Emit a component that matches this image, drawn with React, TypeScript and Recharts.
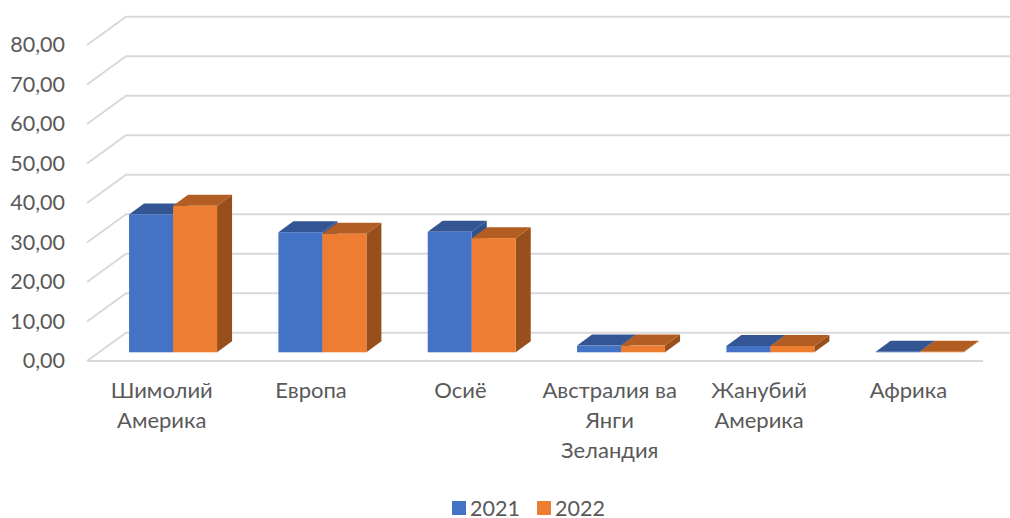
import React from "react";
import { Bar, BarChart, CartesianGrid, Legend, XAxis, YAxis } from "recharts";

const categories = [
  ["Шимолий", "Америка"],
  ["Европа"],
  ["Осиё"],
  ["Австралия ва", "Янги", "Зеландия"],
  ["Жанубий", "Америка"],
  ["Африка"],
];
const values2021 = [34.9, 30.4, 30.5, 1.7, 1.6, 0.15];
const values2022 = [37.1, 30.0, 28.9, 1.7, 1.6, 0.15];
const yTicks = [0, 10, 20, 30, 40, 50, 60, 70, 80];

const data = categories.map((lines, i) => ({
  name: lines.join(" "),
  y2021: values2021[i],
  y2022: values2022[i],
}));

const FONT = "Lato, 'Open Sans', sans-serif";
const TEXT = "#595959";
const GRID = "#d9d9d9";

// bar depth in px, floor shift from the bar plane to the front of the floor
const DX = 15;
const DY = 11;

function bar3d(top: string, side: string) {
  return (p: any) => {
    const { x, y, width, height, fill } = p;
    const r = x + width;
    const b = y + height;
    return (
      <g>
        <polygon points={`${r},${y} ${r + DX},${y - DY} ${r + DX},${b - DY} ${r},${b}`} fill={side} />
        <polygon points={`${x},${y} ${x + DX},${y - DY} ${r + DX},${y - DY} ${r},${y}`} fill={top} />
        <rect x={x} y={y} width={width} height={height} fill={fill} />
      </g>
    );
  };
}

// each grid line is a diagonal on the side wall and a long line on the back wall
function gridLine(p: any) {
  const { y1, index } = p;
  const front = y1 + 8.7;
  const back = y1 - 19.5;
  return (
    <g key={index} fill="none" stroke={GRID} strokeWidth={2}>
      <polyline points={`87,${front} 126,${back} 1010,${back}`} />
      {y1 > 350 && <line x1={87} y1={front} x2={983} y2={front} />}
    </g>
  );
}

function YTick({ y, payload }: any) {
  return (
    <text x={65} y={y + 16} textAnchor="end" fontSize={21.5} fill={TEXT} fontFamily={FONT}>
      {payload.value.toFixed(2).replace(".", ",")}
    </text>
  );
}

function XTick({ x, y, payload }: any) {
  const lines = categories.find((c) => c.join(" ") === payload.value) || [];
  return (
    <text textAnchor="middle" fontSize={22} fill={TEXT} fontFamily={FONT}>
      {lines.map((l, i) => (
        <tspan key={i} x={x - 11.7} y={y + 38 + i * 30}>
          {l}
        </tspan>
      ))}
    </text>
  );
}

function LegendBox({ payload }: any) {
  return (
    <div style={{ position: "relative", height: 20, fontFamily: FONT, fontSize: 21.5, color: TEXT }}>
      {(payload || []).map((e: any, i: number) => (
        <div key={e.value} style={{ position: "absolute", left: 452 + i * 85, top: 0, display: "flex", alignItems: "center" }}>
          <span style={{ width: 14, height: 14, background: e.color, marginRight: 4 }} />
          <span style={{ lineHeight: "20px" }}>{e.value}</span>
        </div>
      ))}
    </div>
  );
}

export default function App() {
  return (
    <div style={{ position: "absolute", left: 0, top: 0, width: 1010, height: 518, background: "#fff" }}>
      <BarChart
        width={1010}
        height={518}
        data={data}
        barGap={0}
        barCategoryGap="20.3%"
        margin={{ top: 36.3, right: 15.25, bottom: 65.7, left: 0 }}
      >
        <CartesianGrid vertical={false} horizontal={gridLine} />
        <XAxis dataKey="name" height={100} interval={0} axisLine={false} tickLine={false} tick={<XTick />} />
        <YAxis width={98.75} domain={[0, 80]} ticks={yTicks} axisLine={false} tickLine={false} tick={<YTick />} />
        <Legend
          layout="horizontal"
          verticalAlign="middle"
          wrapperStyle={{ left: 0, top: 498, width: 1010 }}
          content={<LegendBox />}
        />
        <Bar dataKey="y2021" name="2021" fill="#4472c4" isAnimationActive={false} shape={bar3d("#335593", "#2f5291")} />
        <Bar dataKey="y2022" name="2022" fill="#ed7d31" isAnimationActive={false} shape={bar3d("#b25e22", "#974f1c")} />
      </BarChart>
    </div>
  );
}
